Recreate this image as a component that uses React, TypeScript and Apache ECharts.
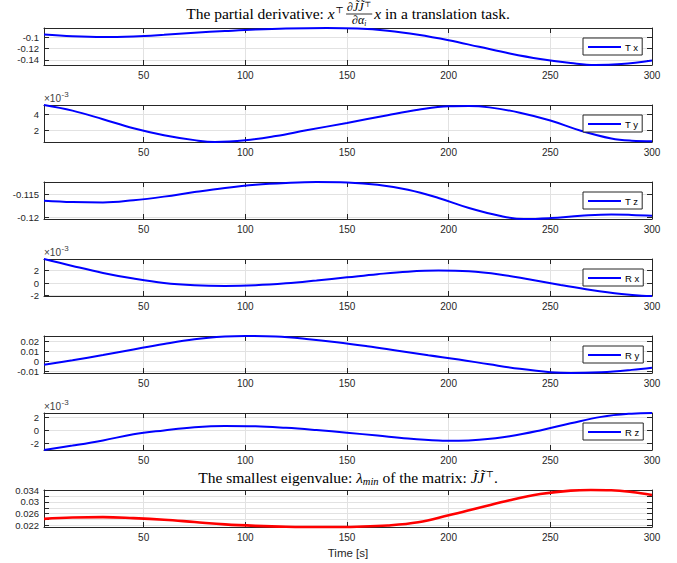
import React, { useEffect, useRef } from 'react';
import * as echarts from 'echarts';

// ---------------- data ----------------
const X_MIN = 1;
const X_MAX = 300;
const X_TICKS = [50, 100, 150, 200, 250, 300];

const TX_X = [1, 15, 30, 45, 60, 75, 90, 105, 120, 140, 155, 170, 185, 200, 215, 230, 245, 260, 272, 285, 300];
const TX_Y = [-0.0947, -0.0979, -0.0993, -0.0981, -0.0952, -0.0916, -0.0886, -0.0859, -0.0841, -0.0832, -0.0841, -0.088, -0.0952, -0.105, -0.1167, -0.1284, -0.1382, -0.1454, -0.149, -0.1472, -0.1409];

// Ty, Rx, Rz in units of 1e-3
const TY_X = [1, 15, 30, 45, 60, 75, 85, 100, 115, 130, 150, 170, 185, 200, 210, 220, 235, 250, 265, 280, 290, 300];
const TY_Y = [5.14, 4.45, 3.4, 2.3, 1.45, 0.85, 0.62, 0.82, 1.35, 2.05, 2.95, 3.9, 4.55, 4.98, 5.02, 4.85, 4.2, 3.25, 2.0, 1.05, 0.78, 0.72];

const TZ_X = [1, 15, 30, 45, 60, 75, 90, 105, 120, 135, 150, 165, 180, 195, 210, 225, 237, 250, 265, 280, 290, 300];
const TZ_Y = [-0.1164, -0.1167, -0.1168, -0.1163, -0.1155, -0.1145, -0.1136, -0.1129, -0.1125, -0.1123, -0.1124, -0.1129, -0.114, -0.1158, -0.118, -0.1197, -0.1204, -0.1202, -0.1197, -0.1194, -0.1195, -0.1197];

const RX_X = [1, 15, 30, 45, 60, 75, 90, 105, 120, 135, 150, 165, 180, 195, 210, 225, 240, 255, 270, 285, 295, 300];
const RX_Y = [3.8, 2.7, 1.6, 0.7, 0.0, -0.35, -0.45, -0.35, -0.05, 0.4, 0.9, 1.4, 1.8, 1.97, 1.85, 1.35, 0.55, -0.3, -1.1, -1.75, -2.02, -2.05];

const RY_X = [1, 15, 30, 45, 60, 75, 90, 100, 115, 130, 145, 160, 175, 190, 205, 220, 235, 250, 260, 275, 290, 300];
const RY_Y = [-0.0035, 0.001, 0.0062, 0.0118, 0.0172, 0.0218, 0.0245, 0.0251, 0.0245, 0.0222, 0.019, 0.015, 0.0105, 0.006, 0.0018, -0.003, -0.0075, -0.0108, -0.0116, -0.0108, -0.0085, -0.0063];

const RZ_X = [1, 15, 30, 45, 60, 75, 90, 105, 120, 135, 150, 165, 180, 195, 205, 215, 230, 245, 260, 275, 290, 300];
const RZ_Y = [-3.03, -2.35, -1.55, -0.6, 0.0, 0.5, 0.7, 0.65, 0.4, 0.05, -0.35, -0.8, -1.25, -1.55, -1.6, -1.45, -0.9, 0.0, 1.1, 2.1, 2.6, 2.7];

const LAM_X = [1, 15, 30, 45, 60, 75, 90, 105, 120, 140, 155, 170, 185, 200, 215, 230, 245, 260, 270, 280, 290, 300];
const LAM_Y = [0.0242, 0.02465, 0.0248, 0.02445, 0.0239, 0.0231, 0.0223, 0.0218, 0.0215, 0.0214, 0.0215, 0.0219, 0.023, 0.0254, 0.028, 0.0306, 0.0327, 0.0339, 0.0341, 0.034, 0.0334, 0.0324];

const TX_TICKS = [-0.14, -0.12, -0.1];
const TY_TICKS = [2, 4];
const TZ_TICKS = [-0.12, -0.115];
const RX_TICKS = [-2, 0, 2];
const RY_TICKS = [-0.01, 0, 0.01, 0.02];
const RZ_TICKS = [-2, 0, 2];
const LAM_TICKS = [0.022, 0.024, 0.026, 0.028, 0.03, 0.032, 0.034];
const LAM_LABELS = [0.022, 0.026, 0.03, 0.034];

const SERIES_NAMES = ['T x', 'T y', 'T z', 'R x', 'R y', 'R z', 'λmin'];
const X_LABEL = 'Time [s]';
const EXP_TEXT = '×10';
const EXP_POW = '-3';

// ---------------- layout / style ----------------
const GRID_TOPS = [28, 105, 182, 259, 336, 413, 490];
const GRID_H = 37;
const GRID_LEFT = 44;
const GRID_W = 608;
const AX = '#262626';
const GRIDC = '#e2e2e2';
const SANS = '"Liberation Sans", Arial, Helvetica, sans-serif';
const SERIF = '"Liberation Serif", "Times New Roman", "DejaVu Serif", serif';

const PANELS = [
  { xs: TX_X, ys: TX_Y, ticks: TX_TICKS, labels: TX_TICKS, exp: false, color: '#0000ff', legend: true },
  { xs: TY_X, ys: TY_Y, ticks: TY_TICKS, labels: TY_TICKS, exp: true, color: '#0000ff', legend: true },
  { xs: TZ_X, ys: TZ_Y, ticks: TZ_TICKS, labels: TZ_TICKS, exp: false, color: '#0000ff', legend: true },
  { xs: RX_X, ys: RX_Y, ticks: RX_TICKS, labels: RX_TICKS, exp: true, color: '#0000ff', legend: true },
  { xs: RY_X, ys: RY_Y, ticks: RY_TICKS, labels: RY_TICKS, exp: false, color: '#0000ff', legend: true },
  { xs: RZ_X, ys: RZ_Y, ticks: RZ_TICKS, labels: RZ_TICKS, exp: true, color: '#0000ff', legend: true },
  { xs: LAM_X, ys: LAM_Y, ticks: LAM_TICKS, labels: LAM_LABELS, exp: false, color: '#ff0000', legend: false },
];

type Piece = { t?: string; s?: number; it?: boolean; dy?: number; pre?: number; frac?: { num: Piece[]; den: Piece[] } };

const S = 15.5;
const TITLE1: Piece[] = [
  { t: 'The partial derivative: ', s: S },
  { t: 'x', s: S, it: true },
  { t: '⊤', s: 9, dy: -5.5, pre: 0.5 },
  {
    frac: {
      num: [{ t: '∂', s: 12 }, { t: 'J̃J̃', s: 12, it: true }, { t: '⊤', s: 7.5, dy: -4, pre: 0.5 }],
      den: [{ t: '∂', s: 12 }, { t: 'α', s: 12, it: true }, { t: 'i', s: 7.5, it: true, dy: 2 }],
    },
    pre: 2.5,
  },
  { t: 'x', s: S, it: true, pre: 2 },
  { t: ' in a translation task.', s: S },
];
const TITLE2: Piece[] = [
  { t: 'The smallest eigenvalue: ', s: S },
  { t: 'λ', s: S, it: true },
  { t: 'min', s: 10.5, it: true, dy: 3 },
  { t: ' of the matrix: ', s: S },
  { t: 'J̃J̃', s: S, it: true },
  { t: '⊤', s: 9, dy: -5.5, pre: 1 },
  { t: '.', s: S },
];

function fontOf(s: number, it?: boolean) {
  return `${it ? 'italic ' : ''}${s}px ${SERIF}`;
}

function buildTitle(ctx: CanvasRenderingContext2D, pieces: Piece[], cx: number, base: number) {
  const out: any[] = [];
  const wp = (p: Piece) => {
    ctx.font = fontOf(p.s || S, p.it);
    return ctx.measureText(p.t || '').width;
  };
  const rowW = (ps: Piece[]) => ps.reduce((a, p) => a + (p.pre || 0) + wp(p), 0);
  const txt = (p: Piece, x: number, b: number) => {
    const s = p.s || S;
    out.push({
      type: 'text',
      silent: true,
      x,
      y: b - 0.34 * s,
      style: { text: p.t, font: fontOf(s, p.it), fill: '#000', textAlign: 'left', textVerticalAlign: 'middle', verticalAlign: 'middle' },
    });
  };
  const emitRow = (ps: Piece[], x: number, b: number) => {
    for (const p of ps) {
      x += p.pre || 0;
      txt(p, x, b + (p.dy || 0));
      x += wp(p);
    }
    return x;
  };
  const pieceW = (p: Piece) => {
    if (p.frac) return Math.max(rowW(p.frac.num), rowW(p.frac.den)) + 2;
    return wp(p);
  };
  const total = pieces.reduce((a, p) => a + (p.pre || 0) + pieceW(p), 0);
  let x = cx - total / 2;
  for (const p of pieces) {
    x += p.pre || 0;
    if (p.frac) {
      const fw = pieceW(p);
      const bar = base - 4.5;
      const nw = rowW(p.frac.num);
      const dw = rowW(p.frac.den);
      emitRow(p.frac.num, x + (fw - nw) / 2, bar - 2.8);
      emitRow(p.frac.den, x + (fw - dw) / 2, bar + 10.5);
      out.push({ type: 'line', silent: true, shape: { x1: x, y1: bar, x2: x + fw, y2: bar }, style: { stroke: '#000', lineWidth: 0.8 } });
      x += fw;
    } else {
      txt(p, x, base + (p.dy || 0));
      x += wp(p);
    }
  }
  return out;
}

function fmt(v: number) {
  return String(Math.round(v * 1e6) / 1e6);
}

export default function App() {
  const ref = useRef<HTMLDivElement>(null);
  useEffect(() => {
    if (!ref.current) return;
    const chart = echarts.init(ref.current, undefined, { renderer: 'svg' });
    const canvas = document.createElement('canvas');
    const ctx = canvas.getContext('2d') as CanvasRenderingContext2D;

    const grid: any[] = [];
    const xAxis: any[] = [];
    const yAxis: any[] = [];
    const series: any[] = [];
    const legend: any[] = [];
    const graphic: any[] = [];

    PANELS.forEach((p, i) => {
      const top = GRID_TOPS[i];
      grid.push({ left: GRID_LEFT, top, width: GRID_W, height: GRID_H, containLabel: false });
      const ymin = Math.min(...p.ys);
      const ymax = Math.max(...p.ys);
      const last = i === PANELS.length - 1;
      ['bottom', 'top'].forEach((pos) => {
        xAxis.push({
          type: 'value',
          gridIndex: i,
          position: pos,
          min: X_MIN,
          max: X_MAX,
          name: pos === 'bottom' && last ? X_LABEL : '',
          nameLocation: 'middle',
          nameGap: 20,
          nameTextStyle: { fontFamily: SANS, fontSize: 11.5, color: AX },
          axisLine: { show: true, onZero: false, lineStyle: { color: AX, width: 1 } },
          axisTick: { show: true, inside: true, length: 5, customValues: X_TICKS, lineStyle: { color: AX, width: 1 } },
          axisLabel: { show: pos === 'bottom', customValues: X_TICKS, fontFamily: SANS, fontSize: 10, color: AX, margin: 5, formatter: fmt },
          splitLine: { show: pos === 'bottom', lineStyle: { color: GRIDC, width: 1 } },
        });
      });
      ['left', 'right'].forEach((pos) => {
        yAxis.push({
          type: 'value',
          gridIndex: i,
          position: pos,
          min: ymin,
          max: ymax,
          axisLine: { show: true, onZero: false, lineStyle: { color: AX, width: 1 } },
          axisTick: { show: true, inside: true, length: 5, customValues: p.ticks, lineStyle: { color: AX, width: 1 } },
          axisLabel: { show: pos === 'left', customValues: p.labels, fontFamily: SANS, fontSize: 9.5, color: AX, margin: 5, formatter: fmt },
          splitLine: { show: pos === 'left', lineStyle: { color: GRIDC, width: 1 } },
        });
      });
      series.push({
        type: 'line',
        name: SERIES_NAMES[i],
        xAxisIndex: 2 * i,
        yAxisIndex: 2 * i,
        data: p.xs.map((x, k) => [x, p.ys[k]]),
        smooth: 0.4,
        symbol: 'none',
        clip: false,
        lineStyle: { color: p.color, width: i === PANELS.length - 1 ? 2.6 : 2 },
        itemStyle: { color: p.color },
        z: 3,
      });
      if (p.legend) {
        legend.push({
          data: [SERIES_NAMES[i]],
          icon: 'rect',
          left: 583,
          top: top + 10,
          padding: [4, 4, 3, 5],
          itemWidth: 33,
          itemHeight: 2,
          backgroundColor: '#ffffff',
          borderColor: AX,
          borderWidth: 1,
          borderRadius: 0,
          selectedMode: false,
          textStyle: { fontFamily: SANS, fontSize: 9.5, color: '#000', padding: [0, 0, 0, -1] },
        });
      }
      if (p.exp) {
        ctx.font = `10px ${SANS}`;
        const ew = ctx.measureText(EXP_TEXT).width;
        graphic.push({
          type: 'text', silent: true, x: GRID_LEFT, y: top - 7,
          style: { text: EXP_TEXT, font: `10px ${SANS}`, fill: '#3c3c3c', textAlign: 'left', textVerticalAlign: 'middle', verticalAlign: 'middle' },
        });
        graphic.push({
          type: 'text', silent: true, x: GRID_LEFT + ew + 0.5, y: top - 10.5,
          style: { text: EXP_POW, font: `8px ${SANS}`, fill: '#3c3c3c', textAlign: 'left', textVerticalAlign: 'middle', verticalAlign: 'middle' },
        });
      }
    });

    const cx = GRID_LEFT + GRID_W / 2;
    graphic.push(...buildTitle(ctx, TITLE1, cx, 18.5));
    graphic.push(...buildTitle(ctx, TITLE2, cx, 482.3));

    chart.setOption({
      animation: false,
      backgroundColor: '#ffffff',
      grid,
      xAxis,
      yAxis,
      series,
      legend,
      graphic,
    });
    return () => chart.dispose();
  }, []);
  return <div ref={ref} style={{ position: 'absolute', left: 0, top: 0, width: 677, height: 563 }} />;
}
